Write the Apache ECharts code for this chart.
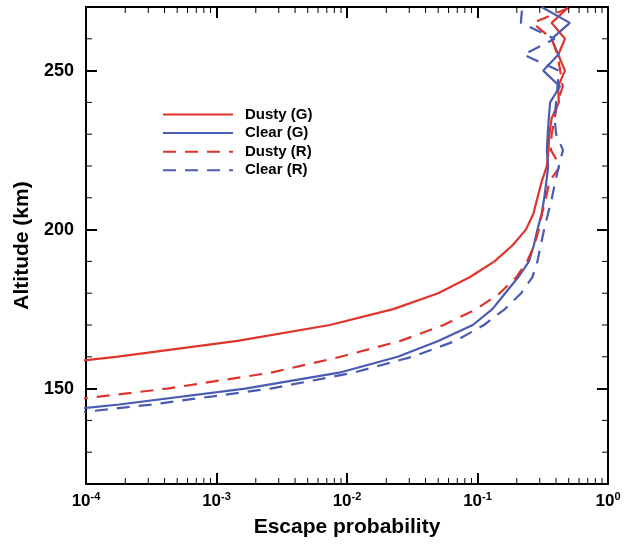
<!DOCTYPE html>
<html>
<head>
<meta charset="utf-8">
<script src="https://cdn.jsdelivr.net/npm/echarts@6/dist/echarts.min.js"></script>
<style>
  html, body { margin: 0; padding: 0; background: #fff; }
  #chart { width: 624px; height: 550px; }
</style>
</head>
<body>
<div id="chart"></div>
<script>
// Altitude grid (km), shared by every profile
const altitude = [140, 145, 150, 155, 160, 165, 170, 175, 180, 185, 190, 195, 200, 205,
                  210, 215, 220, 225, 230, 235, 240, 245, 250, 255, 260, 265, 270];

// Escape probability profiles
const dustyG = [null, null, null, 1.35e-5, 1.7e-4, 1.45e-3, 7.4e-3, 0.0226, 0.050, 0.087, 0.135, 0.185, 0.235, 0.268,
                0.288, 0.31, 0.34, 0.35, 0.355, 0.37, 0.42, 0.415, 0.468, 0.416, 0.468, 0.37, 0.50];
const clearG = [1.1e-5, 1.8e-4, 1.66e-3, 8.7e-3, 0.0245, 0.050, 0.092, 0.13, 0.163, 0.205, 0.248, 0.27, 0.288, 0.31,
                0.325, 0.337, 0.348, 0.34, 0.345, 0.352, 0.36, 0.428, 0.319, 0.416, 0.37, 0.51, 0.31];
const dustyR = [null, 3.8e-5, 4.2e-4, 2.6e-3, 8.9e-3, 0.0257, 0.055, 0.098, 0.148, 0.198, 0.24, 0.272, 0.295, 0.312,
                0.335, 0.355, 0.43, 0.365, 0.37, 0.39, 0.41, 0.45, 0.43, 0.41, 0.37, 0.265, 0.52];
const clearR = [2.5e-5, 3.2e-4, 2.6e-3, 0.0112, 0.0316, 0.068, 0.112, 0.162, 0.216, 0.263, 0.288, 0.305, 0.324, 0.347,
                0.372, 0.394, 0.42, 0.452, 0.40, 0.39, 0.40, 0.41, 0.42, 0.225, 0.39, 0.215, 0.22];

const seriesNames = ['Dusty (G)', 'Clear (G)', 'Dusty (R)', 'Clear (R)'];

// Axis ranges and ticks
const xMin = 1e-4, xMax = 1;
const yMin = 120, yMax = 270;
const yMajorTicks = [150, 200, 250];
const yMinorTicks = [130, 140, 160, 170, 180, 190, 210, 220, 230, 240, 260];
const xDecades = [-4, -3, -2, -1];
const xMinorMultipliers = [2, 3, 4, 5, 6, 7, 8, 9];

const RED = '#e0332b';
const BLUE = '#4a5bb4';
const FONT = '"Liberation Sans", Arial, Helvetica, sans-serif';

const xMinorTicks = [];
xDecades.forEach(d => xMinorMultipliers.forEach(m => xMinorTicks.push(+(m * Math.pow(10, d)).toPrecision(3))));

function pairs(values) {
  return values.map((v, i) => [v, altitude[i]]);
}

function lineSeries(name, values, color, dashed) {
  return {
    name: name,
    type: 'line',
    xAxisIndex: 0,
    yAxisIndex: 0,
    data: pairs(values),
    showSymbol: false,
    symbol: 'none',
    clip: true,
    lineStyle: { color: color, width: 2.2, type: dashed ? [13, 9] : 'solid' },
    itemStyle: { color: color },
    z: 3
  };
}

function tickLine(x1, y1, x2, y2) {
  return { type: 'line', shape: { x1: x1, y1: y1, x2: x2, y2: y2 }, style: { stroke: '#000', lineWidth: 1 } };
}

const chart = echarts.init(document.getElementById('chart'), null, { renderer: 'canvas' });

const axisLineStyle = { show: true, lineStyle: { color: '#000', width: 2 } };

chart.setOption({
  animation: false,
  backgroundColor: '#fff',
  grid: { left: 86, right: 16, top: 7, bottom: 66, containLabel: false },
  legend: {
    orient: 'vertical',
    left: 162,
    top: 107,
    padding: 0,
    itemWidth: 70,
    itemHeight: 15,
    itemGap: 3.6,
    data: seriesNames,
    itemStyle: { opacity: 0 },
    textStyle: { fontFamily: FONT, fontSize: 15, fontWeight: 'bold', color: '#000', padding: [0, 0, 0, 7] }
  },
  xAxis: [
    {
      type: 'log', logBase: 10, min: xMin, max: xMax, position: 'bottom',
      name: 'Escape probability', nameLocation: 'middle', nameGap: 33,
      nameTextStyle: { fontFamily: FONT, fontSize: 21, fontWeight: 'bold', color: '#000' },
      axisLine: axisLineStyle,
      axisTick: { show: true, inside: true, length: 11, lineStyle: { color: '#000', width: 2 } },
      splitLine: { show: false },
      axisLabel: {
        margin: 7,
        formatter: v => '{b|10}{s|' + Math.round(Math.log10(v)) + '}',
        rich: {
          b: { fontFamily: FONT, fontSize: 17, fontWeight: 'bold', color: '#000', lineHeight: 20 },
          s: { fontFamily: FONT, fontSize: 11, fontWeight: 'bold', color: '#000', verticalAlign: 'top', lineHeight: 12 }
        }
      }
    },
    {
      type: 'log', logBase: 10, min: xMin, max: xMax, position: 'top',
      axisLine: axisLineStyle,
      axisTick: { show: true, inside: true, length: 11, lineStyle: { color: '#000', width: 2 } },
      axisLabel: { show: false },
      splitLine: { show: false }
    }
  ],
  yAxis: [
    {
      type: 'value', min: yMin, max: yMax, interval: 10, position: 'left',
      name: 'Altitude (km)', nameLocation: 'middle', nameGap: 49,
      nameTextStyle: { fontFamily: FONT, fontSize: 21, fontWeight: 'bold', color: '#000' },
      axisLine: axisLineStyle,
      axisTick: { show: true, inside: true, length: 11, customValues: yMajorTicks, lineStyle: { color: '#000', width: 2 } },
      axisLabel: { customValues: yMajorTicks, margin: 12, fontFamily: FONT, fontSize: 18, fontWeight: 'bold', color: '#000' },
      splitLine: { show: false }
    },
    {
      type: 'value', min: yMin, max: yMax, interval: 10, position: 'right',
      axisLine: axisLineStyle,
      axisTick: { show: true, inside: true, length: 11, customValues: yMajorTicks, lineStyle: { color: '#000', width: 2 } },
      axisLabel: { show: false },
      splitLine: { show: false }
    }
  ],
  series: [
    lineSeries(seriesNames[0], dustyG, RED, false),
    lineSeries(seriesNames[1], clearG, BLUE, false),
    lineSeries(seriesNames[2], dustyR, RED, true),
    lineSeries(seriesNames[3], clearR, BLUE, true),
    {
      // minor ticks of the log axis, bottom and top
      type: 'custom', silent: true, xAxisIndex: 0, yAxisIndex: 0,
      data: xMinorTicks.map(v => [v, yMin]),
      renderItem: (params, api) => {
        const v = api.value(0);
        const b = api.coord([v, yMin]);
        const t = api.coord([v, yMax]);
        return { type: 'group', children: [tickLine(b[0], b[1], b[0], b[1] - 6), tickLine(t[0], t[1], t[0], t[1] + 6)] };
      },
      z: 4
    },
    {
      // minor ticks of the altitude axis, left and right
      type: 'custom', silent: true, xAxisIndex: 0, yAxisIndex: 0,
      data: yMinorTicks.map(v => [xMin, v]),
      renderItem: (params, api) => {
        const v = api.value(1);
        const l = api.coord([xMin, v]);
        const r = api.coord([xMax, v]);
        return { type: 'group', children: [tickLine(l[0], l[1], l[0] + 6, l[1]), tickLine(r[0], r[1], r[0] - 6, r[1])] };
      },
      z: 4
    }
  ]
});
</script>
</body>
</html>
